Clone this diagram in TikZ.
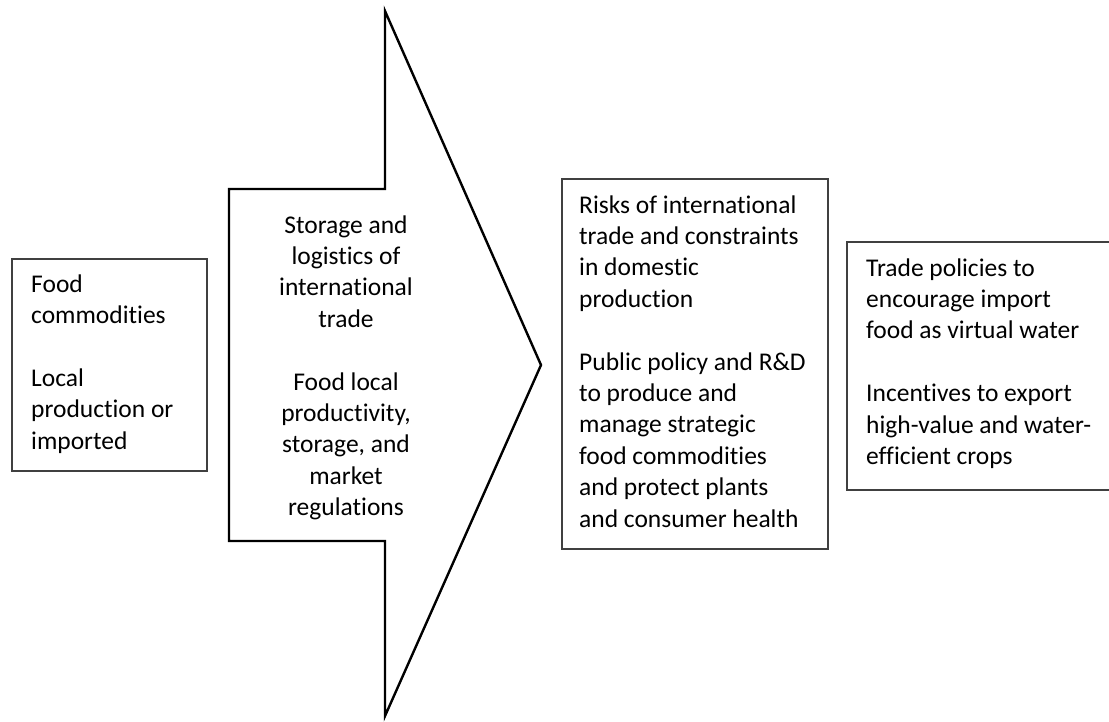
\documentclass[tikz,border=0pt]{standalone}
\usepackage{fontspec}
\setmainfont{Carlito}[Ligatures=NoCommon]
\begin{document}
\begin{tikzpicture}[x=1pt,y=-1pt,
  box/.style={draw=black!75,line width=1.1pt},
  bigarrow/.style={draw=black,line width=2.4pt,line join=miter},
  txt/.style={inner sep=0pt,anchor=base west,font=\fontsize{25.5}{31.4}\selectfont},
  ctxt/.style={inner sep=0pt,anchor=base,font=\fontsize{25.5}{31.4}\selectfont}]
\useasboundingbox (0,0) rectangle (1109,721);
\clip (0,0) rectangle (1109,721);

% block arrow in the middle
\draw[bigarrow] (229,189) -- (385,189) -- (385,11) -- (541,365) -- (385,716)
  -- (385,541) -- (229,541) -- cycle;

% framed boxes
\draw[box] (12,259) rectangle (207,471);
\draw[box] (562,179) rectangle (828,549);
\draw[box] (847,242) rectangle (1120,490);

% texts
\node[txt] (t1) at (31,292) {\parbox[t]{170pt}{\raggedright
  Food\\ commodities\\[31.4pt] Local\\ production or\\ imported}};
\node[ctxt] (t2) at (346,233) {\parbox[t]{190pt}{\centering
  Storage and\\ logistics of\\ international\\ trade\\[31.4pt]
  Food local\\ productivity,\\ storage, and\\ market\\ regulations}};
\node[txt] (t3) at (579,213) {\parbox[t]{250pt}{\raggedright
  Risks of international\\ trade and constraints\\ in domestic\\ production\\[31.4pt]
  Public policy and R\&D\\ to produce and\\ manage strategic\\ food commodities\\
  and protect plants\\ and consumer health}};
\node[txt] (t4) at (866,276) {\parbox[t]{240pt}{\raggedright
  Trade policies to\\ encourage import\\ food as virtual water\\[31.4pt]
  Incentives to export\\ high-value and water-\\ efficient crops}};
\end{tikzpicture}
\end{document}
